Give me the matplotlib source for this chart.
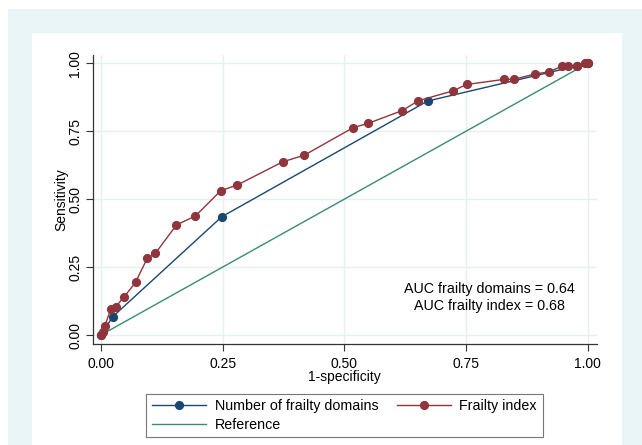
import matplotlib
matplotlib.use("Agg")
import matplotlib.pyplot as plt
from matplotlib.patches import Rectangle

plt.rcParams['font.family'] = ['Liberation Sans', 'DejaVu Sans']

# Data
fi_x = [0.000, 0.004, 0.008, 0.020, 0.030, 0.048, 0.071, 0.095, 0.112, 0.155, 0.194,
        0.246, 0.280, 0.373, 0.418, 0.518, 0.549, 0.619, 0.652, 0.724, 0.751,
        0.829, 0.849, 0.892, 0.920, 0.948, 0.960, 0.977, 0.994, 1.000]
fi_y = [0.000, 0.012, 0.033, 0.095, 0.104, 0.141, 0.194, 0.282, 0.301, 0.405, 0.438,
        0.531, 0.552, 0.637, 0.662, 0.763, 0.779, 0.826, 0.862, 0.899, 0.922,
        0.941, 0.941, 0.961, 0.968, 0.990, 0.990, 0.990, 1.000, 1.000]
nd_x = [0.000, 0.024, 0.248, 0.671, 0.977, 1.000]
nd_y = [0.000, 0.067, 0.435, 0.861, 0.990, 1.000]
ref_x = [0.0, 1.0]
ref_y = [0.0, 1.0]
ticks = [0.0, 0.25, 0.5, 0.75, 1.0]
tick_labels = ["0.00", "0.25", "0.50", "0.75", "1.00"]
auc_text = "AUC frailty domains = 0.64\nAUC frailty index = 0.68"

navy = '#1A476F'
maroon = '#90353B'
green = '#3A8B72'

W, H = 642, 445
fig = plt.figure(figsize=(W / 100, H / 100), dpi=100)
fig.patch.set_facecolor('white')
# light blue background and inner white panel
fig.patches.append(Rectangle((8 / W, 0), 1 - 8 / W, 1 - 9 / H, transform=fig.transFigure,
                             facecolor='#EAF5F8', edgecolor='none', zorder=-2))
fig.patches.append(Rectangle((32 / W, 0), (622 - 32) / W, 1 - 33 / H, transform=fig.transFigure,
                             facecolor='white', edgecolor='none', zorder=-1))

left, right = 92.7, 596.7
top, bottom = 55, 344
ax = fig.add_axes([left / W, 1 - bottom / H, (right - left) / W, (bottom - top) / H])
ax.set_facecolor('none')
ax.set_xlim(-0.017, 1.0185)
ax.set_ylim(-0.0331, 1.0305)

for t in ticks:
    ax.axhline(t, color='#E6F0F3', lw=1.0, zorder=0)
    ax.axvline(t, color='#E6F0F3', lw=1.0, zorder=0)

ax.plot(ref_x, ref_y, color=green, lw=1.0, zorder=2, label='Reference')
ax.plot(nd_x, nd_y, color=navy, lw=1.0, marker='o', ms=5.6, mec=navy, zorder=3,
        label='Number of frailty domains')
ax.plot(fi_x, fi_y, color=maroon, lw=1.0, marker='o', ms=5.6, mec=maroon, zorder=4,
        label='Frailty index')

ax.set_xticks(ticks)
ax.set_xticklabels(tick_labels)
ax.set_yticks(ticks)
ax.set_yticklabels(tick_labels, rotation=90, va='center')
ax.tick_params(direction='out', length=5, width=0.8, labelsize=10, color='#333333')
ax.tick_params(axis='x', pad=4)
ax.tick_params(axis='y', pad=2.5)
for s in ['top', 'right']:
    ax.spines[s].set_visible(False)
for s in ['left', 'bottom']:
    ax.spines[s].set_color('#333333')
    ax.spines[s].set_linewidth(0.9)

ax.set_xlabel('1-specificity', fontsize=10, labelpad=0)
ax.set_ylabel('Sensitivity', fontsize=10, labelpad=0)

ax.text(0.799, 0.139, auc_text, ha='center', va='center', fontsize=10.3, linespacing=1.3)

handles, labels = ax.get_legend_handles_labels()
order = [1, 0, 2]
leg = fig.legend([handles[i] for i in order], [labels[i] for i in order],
                 loc='center', bbox_to_anchor=(344.5 / W, 1 - 415.5 / H), ncol=2,
                 fontsize=10.25, frameon=True, fancybox=False, edgecolor='#555555',
                 handlelength=3.8, handletextpad=0.6, columnspacing=1.3,
                 borderpad=0.4, labelspacing=0.3, borderaxespad=0)
leg.get_frame().set_linewidth(0.8)

fig.savefig('out.png', dpi=100)
